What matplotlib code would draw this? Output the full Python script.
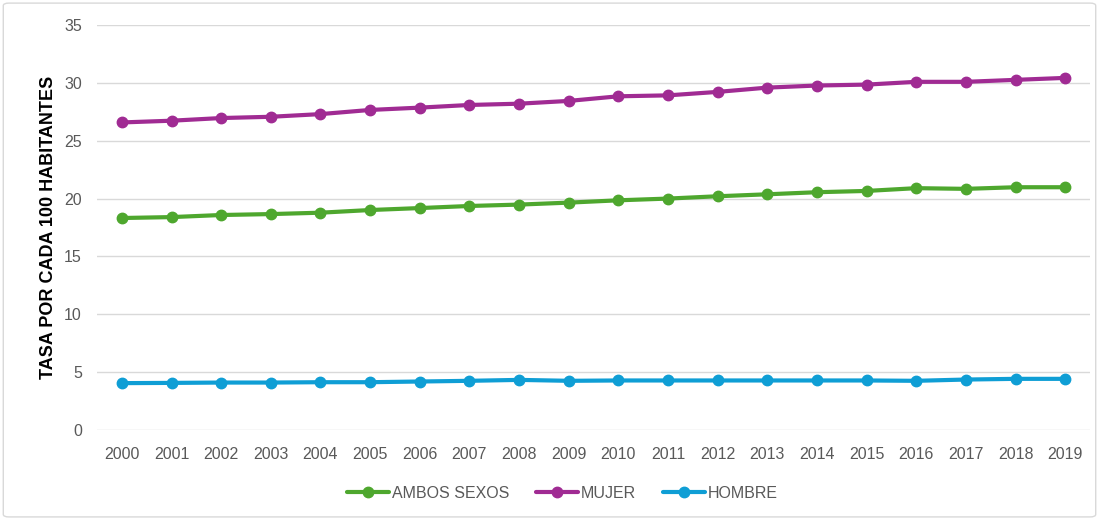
import matplotlib
matplotlib.use("Agg")
import matplotlib.pyplot as plt
from matplotlib.patches import FancyBboxPatch

plt.rcParams['font.family'] = ['Liberation Sans', 'DejaVu Sans']

years = [str(y) for y in range(2000, 2020)]
ambos = [18.32, 18.40, 18.58, 18.66, 18.78, 19.01, 19.18, 19.36, 19.48, 19.65,
         19.85, 20.00, 20.20, 20.37, 20.55, 20.66, 20.90, 20.84, 20.98, 20.98]
mujer = [26.58, 26.73, 26.96, 27.07, 27.30, 27.66, 27.86, 28.09, 28.20, 28.44,
         28.84, 28.92, 29.22, 29.59, 29.77, 29.85, 30.09, 30.09, 30.26, 30.43]
hombre = [4.05, 4.07, 4.10, 4.10, 4.13, 4.13, 4.19, 4.25, 4.33, 4.25,
          4.28, 4.28, 4.28, 4.28, 4.28, 4.28, 4.25, 4.36, 4.42, 4.42]
series_names = ["AMBOS SEXOS", "MUJER", "HOMBRE"]
colors = ["#4EA72E", "#A02B93", "#0F9ED5"]
yticks = [0, 5, 10, 15, 20, 25, 30, 35]
ylabel = "TASA POR CADA 100 HABITANTES"

fig = plt.figure(figsize=(10.99, 5.19), dpi=100)
ax = fig.add_axes([0.0883, 0.1715, 0.9035, 0.7803])

x = list(range(len(years)))
for vals, name, c in zip([ambos, mujer, hombre], series_names, colors):
    ax.plot(x, vals, color=c, lw=3.0, marker='o', markersize=7.5, label=name,
            solid_capstyle='round', zorder=3)

ax.set_xlim(-0.5, len(years) - 0.5)
ax.set_ylim(0, 35)
ax.set_yticks(yticks)
ax.set_xticks(x)
ax.set_xticklabels(years)
ax.grid(axis='y', color='#D9D9D9', lw=1)
ax.set_axisbelow(True)
for s in ax.spines.values():
    s.set_visible(False)
ax.tick_params(length=0, labelsize=11.5, labelcolor='#595959')
ax.tick_params(axis='x', pad=12)
ax.tick_params(axis='y', pad=11)
ax.set_ylabel(ylabel, fontsize=13, fontweight='bold', color='black', labelpad=5)

leg = fig.legend(loc='center', bbox_to_anchor=(0.512, 0.05), ncol=3, frameon=False,
                 fontsize=11.5, handlelength=2.6, columnspacing=1.7, handletextpad=0.2)
for t in leg.get_texts():
    t.set_color('#595959')

fig.patches.append(FancyBboxPatch((0.003, 0.004), 0.994, 0.99, boxstyle="round,pad=0,rounding_size=0.005",
                                  transform=fig.transFigure, fill=False, edgecolor='#D9D9D9', lw=1))

fig.savefig("out.png", dpi=100)
